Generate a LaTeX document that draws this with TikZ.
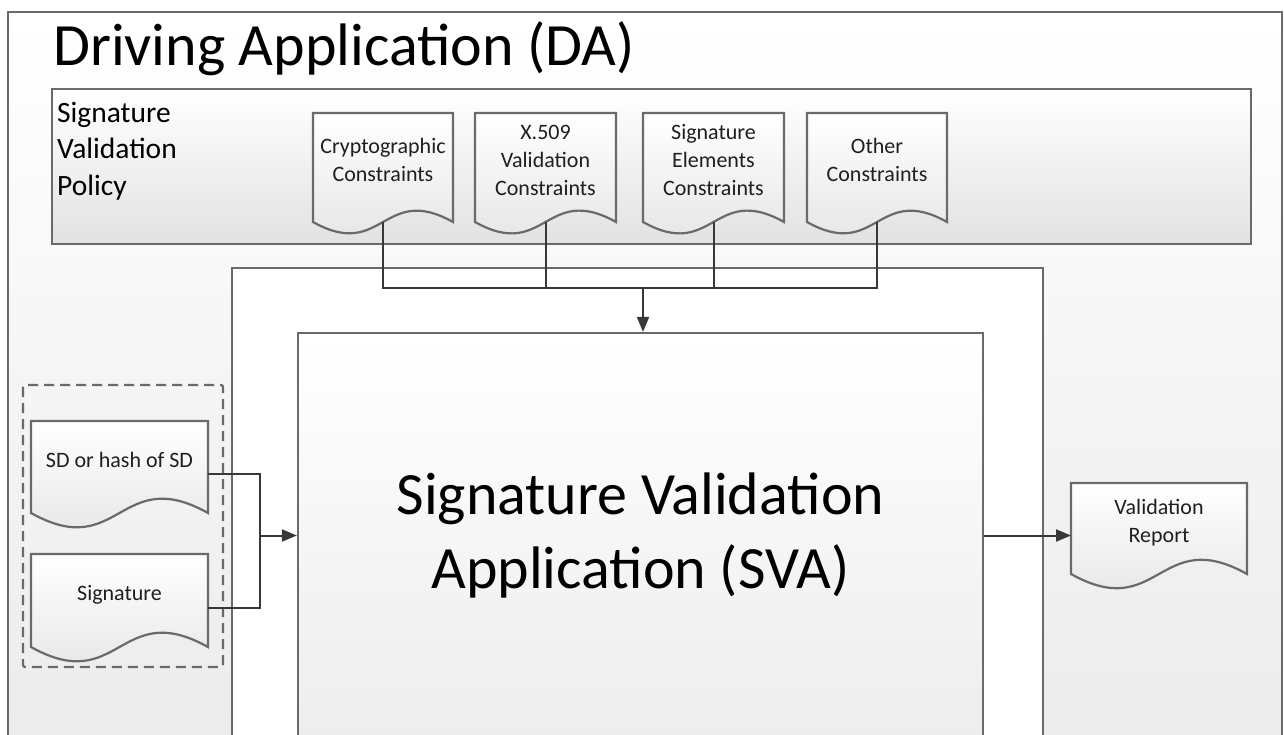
\documentclass[tikz,border=0pt]{standalone}
\usepackage{fontspec}
\setmainfont{Carlito}
\usepackage{tikz}
\usetikzlibrary{arrows.meta}

\definecolor{frameline}{HTML}{6A6A6A}
\definecolor{linkline}{HTML}{383838}
\definecolor{fillend}{HTML}{E2E2E2}

% document shape: flat top, wavy bottom
\makeatletter
\newdimen\docxl \newdimen\docxr \newdimen\docyb \newdimen\docyt
\newdimen\docxm \newdimen\docamp
\pgfdeclareshape{document}{
  \inheritsavedanchors[from=rectangle]
  \inheritanchorborder[from=rectangle]
  \inheritanchor[from=rectangle]{center}
  \inheritanchor[from=rectangle]{text}
  \inheritanchor[from=rectangle]{north}
  \inheritanchor[from=rectangle]{south}
  \inheritanchor[from=rectangle]{east}
  \inheritanchor[from=rectangle]{west}
  \inheritanchor[from=rectangle]{north east}
  \inheritanchor[from=rectangle]{north west}
  \inheritanchor[from=rectangle]{south east}
  \inheritanchor[from=rectangle]{south west}
  \backgroundpath{
    \southwest \docxl=\pgf@x \docyb=\pgf@y
    \northeast \docxr=\pgf@x \docyt=\pgf@y
    \docxm=.5\docxl \advance\docxm by .5\docxr
    \docamp=\docxr \advance\docamp by -\docxl \docamp=.28\docamp
    \pgfpathmoveto{\pgfqpoint{\docxl}{\docyb}}
    \pgfpathlineto{\pgfqpoint{\docxl}{\docyt}}
    \pgfpathlineto{\pgfqpoint{\docxr}{\docyt}}
    \pgfpathlineto{\pgfqpoint{\docxr}{\docyb}}
    \pgfpathcurveto{\pgfpoint{\docxm}{\docyb+\docamp}}{\pgfpoint{\docxm}{\docyb-\docamp}}{\pgfqpoint{\docxl}{\docyb}}
    \pgfpathclose
  }
}
\makeatother

\newcommand{\doclines}[1]{\raisebox{0pt}[0pt][0pt]{\begin{tabular}{@{}c@{}}#1\end{tabular}}}

\tikzset{
  >={Triangle[length=15pt,width=12pt]},
  frame/.style={draw=frameline, line width=2.2pt},
  doc/.style={document, frame, top color=white, bottom color=fillend,
    text=black!88, inner sep=0pt, outer sep=0pt, anchor=north,
    font=\fontsize{22}{28}\selectfont},
  link/.style={draw=linkline, line width=2pt},
}

\begin{document}
\begin{tikzpicture}[x=1pt, y=-1pt]
  \clip (0,0) rectangle (1284,735);
  \fill[white] (0,0) rectangle (1284,735);

  % driving application
  \draw[frame, top color=white, bottom color=black!8] (8,12) rectangle (1282,780);
  \node[anchor=base west, inner sep=0pt, font=\fontsize{60}{70}\selectfont] (datitle) at (53,66) {Driving Application (DA)};

  % validation policy
  \draw[frame, top color=white, bottom color=fillend] (52,89) rectangle (1251,244);
  \node[anchor=north west, align=left, inner sep=0pt, font=\fontsize{29.5}{36.5}\selectfont] (policy) at (57,102) {Signature\\Validation\\Policy};
  \node[doc, minimum width=140pt, minimum height=109pt] (crypto) at (383,113) {\doclines{Cryptographic\\Constraints}};
  \node[doc, minimum width=141pt, minimum height=109pt] (x509) at (545.5,113) {\doclines{X.509\\Validation\\Constraints}};
  \node[doc, minimum width=141pt, minimum height=109pt] (sigel) at (713.5,113) {\doclines{Signature\\Elements\\Constraints}};
  \node[doc, minimum width=140pt, minimum height=109pt] (other) at (877,113) {\doclines{Other\\Constraints}};

  % validation application
  \draw[frame, fill=white] (232,268) rectangle (1043,780);
  \node[frame, top color=white, bottom color=black!7, minimum width=685pt, minimum height=405pt,
    align=center, font=\fontsize{60}{74}\selectfont] (sva) at (640.5,535.5) {Signature Validation\\Application (SVA)};

  % inputs
  \draw[frame, dashed, dash pattern=on 10pt off 6pt, rounded corners=2pt] (23,385) rectangle (223,667);
  \node[doc, minimum width=177pt, minimum height=92pt] (sd) at (119.5,421) {\doclines{SD or hash of SD}};
  \node[doc, minimum width=177pt, minimum height=93pt] (sig) at (119.5,554) {\doclines{Signature}};

  % output
  \node[doc, minimum width=176pt, minimum height=91pt] (report) at (1159,483) {\doclines{Validation\\Report}};

  % connectors
  \coordinate (bus) at (643,288);
  \coordinate (merge) at (260,535.5);
  \draw[link] (crypto.south) |- (bus);
  \draw[link] (other.south) |- (bus);
  \draw[link] (x509.south) |- (bus);
  \draw[link] (sigel.south) |- (bus);
  \draw[link, ->] (bus) -- (bus |- sva.north);
  \draw[link] ([yshift=-7pt]sd.east) -| (merge) |- ([yshift=-7pt]sig.east);
  \draw[link, ->] (merge) -- (sva.west);
  \draw[link, ->] (sva.east) -- (sva.east -| report.west);
\end{tikzpicture}
\end{document}
